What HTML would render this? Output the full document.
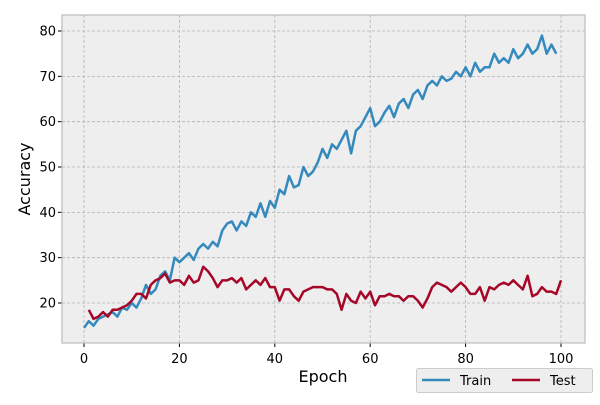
<!DOCTYPE html>
<html><head><meta charset="utf-8"><style>
body{margin:0;background:#fff;font-family:"Liberation Sans","DejaVu Sans",sans-serif}
</style></head><body>
<svg id="chart" width="600" height="400" xmlns="http://www.w3.org/2000/svg" font-family="DejaVu Sans, Liberation Sans, sans-serif">
<rect x="62" y="15" width="523" height="328" fill="#eeeeee"/>
<g id="grid"></g><g id="ticks"></g><g id="series"></g>
<rect x="62" y="15" width="523" height="328" fill="none" stroke="#bcbcbc" stroke-width="1.2"/>
<text x="323" y="382" font-size="16" text-anchor="middle" fill="#000">Epoch</text>
<text transform="translate(30,179) rotate(-90)" font-size="16" text-anchor="middle" fill="#000">Accuracy</text>
<g>
<rect x="416.5" y="368.5" width="176" height="24" fill="#eeeeee" stroke="#cccccc" rx="2"/>
<line x1="422" y1="380" x2="450" y2="380" stroke="#348ABD" stroke-width="2.5"/>
<text x="460" y="385" font-size="13">Train</text>
<line x1="512" y1="380" x2="540" y2="380" stroke="#A60628" stroke-width="2.5"/>
<text x="550" y="385" font-size="13">Test</text>
</g>
</svg>
<script>
const trainEpochs=[...Array(100).keys()];
const trainAcc=[14.5,16,15,16.5,17,17.5,18,17,19,18.5,20,19,21,24,22,23,26,27,25,30,29,30,31,29.5,32,33,32,33.5,32.5,36,37.5,38,36,38,37,40,39,42,39,42.5,41,45,44,48,45.5,46,50,48,49,51,54,52,55,54,56,58,53,58,59,61,63,59,60,62,63.5,61,64,65,63,66,67,65,68,69,68,70,69,69.5,71,70,72,70,73,71,72,72,75,73,74,73,76,74,75,77,75,76,79,75,77,75];
const testEpochs=[...Array(100).keys()].map(i=>i+1);
const testAcc=[18.5,16.5,17,18,17,18.5,18.5,19,19.5,20.5,22,22,21,24,25,25.5,26.5,24.5,25,25,24,26,24.5,25,28,27,25.5,23.5,25,25,25.5,24.5,25.5,23,24,25,24,25.5,23.5,23.5,20.5,23,23,21.5,20.5,22.5,23,23.5,23.5,23.5,23,23,22,18.5,22,20.5,20,22.5,21,22.5,19.5,21.5,21.5,22,21.5,21.5,20.5,21.5,21.5,20.5,19,21,23.5,24.5,24,23.5,22.5,23.5,24.5,23.5,22,22,23.5,20.5,23.5,23,24,24.5,24,25,24,23,26,21.5,22,23.5,22.5,22.5,22,25];
const xTicks=[0,20,40,60,80,100];
const yTicks=[20,30,40,50,60,70,80];
const NS="http://www.w3.org/2000/svg";
const X=v=>84+v*4.77, Y=v=>303-(v-20)*4.533;
function mk(t,a,p){const e=document.createElementNS(NS,t);for(const k in a)e.setAttribute(k,a[k]);p.appendChild(e);return e;}
const grid=document.getElementById('grid'),ticks=document.getElementById('ticks'),series=document.getElementById('series');
xTicks.forEach(v=>{
 const g=mk('line',{x1:X(v),x2:X(v),y1:15,y2:343,stroke:'#b2b2b2','stroke-width':0.8,'stroke-dasharray':'3,2'},grid);
 
 
 mk('line',{x1:X(v),x2:X(v),y1:343,y2:347,stroke:'#000'},ticks);
 const t=mk('text',{x:X(v),y:363,'font-size':13,'text-anchor':'middle',fill:'#000'},ticks);t.textContent=v;
 
 
});
yTicks.forEach(v=>{
 const g=mk('line',{x1:62,x2:585,y1:Y(v),y2:Y(v),stroke:'#b2b2b2','stroke-width':0.8,'stroke-dasharray':'3,2'},grid);
 
 
 mk('line',{x1:58,x2:62,y1:Y(v),y2:Y(v),stroke:'#000'},ticks);
 const t=mk('text',{x:56,y:Y(v)+4.5,'font-size':13,'text-anchor':'end',fill:'#000'},ticks);t.textContent=v;
 
 
});
function line(xs,ys,c,name){
 const p=mk('polyline',{points:xs.map((x,i)=>X(x)+','+Y(ys[i])).join(' '),fill:'none',stroke:c,'stroke-width':2.5,'stroke-linejoin':'round'},series);
 
 
}
line(trainEpochs,trainAcc,'#348ABD','train-line');
line(testEpochs,testAcc,'#A60628','test-line');
</script>
</body></html>
